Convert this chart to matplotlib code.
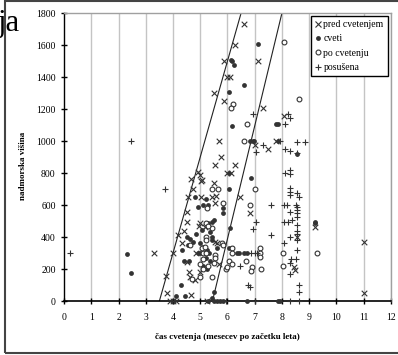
import matplotlib
matplotlib.use("Agg")
import matplotlib.pyplot as plt
from matplotlib.lines import Line2D
from matplotlib.patches import Rectangle

plt.rcParams["font.family"] = ["Liberation Serif", "DejaVu Serif"]

# pred cvetenjem (x)
pred_x = [3.3, 3.74, 3.77, 3.88, 3.99, 4.12, 4.0, 6.6, 6.28, 5.88, 7.13, 5.98, 6.1,
          5.49, 5.89, 7.32, 8.09, 5.69, 7.02, 7.48, 7.79, 5.77, 5.55, 6.26, 6.0, 6.12,
          5.08, 6.47, 5.45, 5.57, 5.55, 6.81, 4.53, 4.53, 4.97, 5.18, 4.2, 4.32, 4.51,
          4.57, 4.63, 4.8, 4.67, 4.91, 4.65, 5.03, 4.75, 4.54, 5.03, 5.0, 5.55, 5.63,
          5.7, 5.0, 5.0, 8.43, 8.49, 9.2, 11.02, 11.02, 8.55, 5.25, 4.4, 4.85, 5.49]
pred_y = [300, 156, 48, 0, 0, 0, 298, 1730, 1600, 1500, 1500, 1400, 1400,
          1300, 1250, 1205, 1155, 1000, 975, 948, 1000, 898, 850, 850, 802, 802,
          756, 652, 650, 655, 610, 548, 558, 496, 470, 460, 412, 360, 246,
          183, 152, 130, 38, 808, 760, 750, 698, 652, 652, 787, 370, 360,
          230, 485, 180, 214, 194, 460, 370, 48, 400, 0, 440, 300, 735]

# cveti (filled dots)
cveti_x = [2.3, 2.46, 7.12, 6.13, 6.18, 6.25, 6.59, 6.06, 6.16, 7.79, 7.87, 6.81, 6.92,
           6.99, 7.85, 6.06, 6.87, 6.06, 5.12, 5.3, 5.85, 5.85, 5.22, 4.91, 4.79, 5.49,
           5.43, 5.3, 5.06, 6.1, 5.43, 5.37, 5.0, 5.1, 5.25, 6.04, 6.15, 6.34, 6.44,
           6.59, 6.71, 4.51, 4.62, 4.74, 4.32, 4.91, 5.0, 5.33, 4.6, 4.3, 4.11, 4.45,
           5.49, 5.43, 5.3, 5.49, 5.61, 5.74, 5.84, 6.71, 7.86, 7.94, 9.2, 9.2, 5.2,
           5.37, 5.1, 5.25, 4.4, 4.55, 8.55, 5.45, 5.6, 4.85]
cveti_y = [295, 175, 1604, 1506, 1500, 1473, 1352, 1306, 1094, 1104, 1104, 1000, 1000,
           1000, 1000, 800, 767, 700, 600, 600, 579, 548, 641, 585, 652, 506,
           496, 485, 444, 454, 400, 430, 360, 340, 320, 329, 329, 298, 298,
           298, 298, 402, 390, 370, 319, 298, 298, 298, 250, 100, 33, 33,
           58, 20, 0, 0, 0, 0, 0, 0, 0, 0, 496, 485, 270,
           250, 220, 200, 250, 350, 920, 380, 330, 420]

# po cvetenju (open circles)
po_x = [8.09, 6.22, 6.13, 8.62, 6.73, 6.59, 5.43, 5.67, 7.02, 5.83, 6.81, 6.16, 6.16,
        7.2, 7.2, 7.2, 8.03, 6.04, 6.16, 6.67, 6.9, 6.86, 7.22, 5.95, 8.03, 5.43, 9.28,
        4.63, 4.69, 5.0, 5.1, 5.2, 5.25, 5.2, 5.2, 5.06, 5.16, 5.43, 5.2, 5.27, 5.79,
        5.85, 5.55, 5.55, 5.98, 5.0, 5.1, 5.3, 5.5, 5.1]
po_y = [1620, 1229, 1204, 1264, 1104, 1000, 700, 700, 700, 614, 600, 329, 298,
        329, 298, 273, 298, 250, 230, 250, 214, 189, 198, 200, 221, 152, 298,
        350, 140, 152, 298, 298, 580, 400, 380, 330, 340, 454, 490, 470, 360,
        350, 290, 270, 210, 230, 200, 220, 240, 260]

# posusena (+)
pos_x = [0.22, 2.46, 3.71, 6.93, 8.24, 8.28, 8.12, 7.04, 7.3, 7.94, 8.55, 8.83, 8.12,
         8.28, 8.55, 8.12, 8.28, 8.3, 8.28, 8.28, 8.28, 8.55, 8.61, 7.6, 8.08, 8.2,
         8.52, 8.57, 8.57, 8.57, 8.57, 8.3, 8.37, 8.08, 8.24, 8.55, 7.05, 6.93, 7.6,
         8.3, 8.55, 8.55, 8.57, 8.08, 8.55, 6.86, 7.0, 7.1, 6.47, 8.3, 8.3, 8.35,
         8.5, 6.75, 6.81, 8.61, 8.61, 5.96, 7.0, 8.3, 8.64]
pos_y = [300, 1000, 698, 1169, 1169, 1142, 1104, 933, 975, 1000, 996, 996, 950,
         937, 923, 802, 794, 820, 704, 683, 662, 673, 652, 600, 600, 600,
         600, 585, 570, 550, 525, 558, 506, 496, 496, 475, 496, 448, 412,
         398, 440, 420, 380, 365, 319, 298, 298, 298, 219, 169, 240, 260,
         260, 100, 86, 100, 58, 0, 0, 0, 0]

# two trend lines (endpoints)
line1_x = [3.5, 6.5]
line1_y = [0, 1800]
line2_x = [5.45, 8.0]
line2_y = [0, 1800]

x_ticks = list(range(0, 13))
y_ticks = list(range(0, 1801, 200))

col = "#333333"

fig = plt.figure(figsize=(3.98, 3.55), dpi=100)
ax = fig.add_axes([0.161, 0.152, 0.821, 0.811])

for xv in x_ticks[1:]:
    ax.axvline(xv, color="#c4c4c4", lw=1.0, zorder=0)

ax.plot(line1_x, line1_y, color="#222222", lw=0.8, zorder=2)
ax.plot(line2_x, line2_y, color="#222222", lw=0.8, zorder=2)

ax.scatter(pred_x, pred_y, marker="x", s=16, color=col, linewidths=0.8,
           clip_on=False, zorder=3)
ax.scatter(cveti_x, cveti_y, marker="o", s=12, color=col, linewidths=0,
           clip_on=False, zorder=3)
ax.scatter(po_x, po_y, marker="o", s=12, facecolors="white", edgecolors=col,
           linewidths=0.8, clip_on=False, zorder=3)
ax.scatter(pos_x, pos_y, marker="+", s=24, color=col, linewidths=0.8,
           clip_on=False, zorder=3)

ax.set_xlim(0, 12)
ax.set_ylim(0, 1800)
ax.set_xticks(x_ticks)
ax.set_yticks(y_ticks)
ax.tick_params(direction="inout", length=5, width=1, labelsize=7, colors="black")
ax.tick_params(axis="x", pad=6)
for s in ["top", "right"]:
    ax.spines[s].set_color("#a0a0a0")
    ax.spines[s].set_linewidth(1)
ax.spines["left"].set_linewidth(1)
ax.spines["bottom"].set_linewidth(1.2)

ax.set_xlabel("čas cvetenja (mesecev po začetku leta)", fontsize=6.5,
              fontweight="bold")
ax.set_ylabel("nadmorska višina", fontsize=6.5, fontweight="bold")
ax.xaxis.set_label_coords(0.5, -0.11)
ax.yaxis.set_label_coords(-0.115, 0.47)

handles = [
    Line2D([], [], marker="x", ls="none", color=col, markersize=4, mew=0.8),
    Line2D([], [], marker="o", ls="none", color=col, markersize=3.5, mew=0),
    Line2D([], [], marker="o", ls="none", mfc="white", mec=col, markersize=3.5, mew=0.8),
    Line2D([], [], marker="+", ls="none", color=col, markersize=5, mew=0.8),
]
leg = ax.legend(handles, ["pred cvetenjem", "cveti", "po cvetenju", "posušena"],
                loc="upper right", bbox_to_anchor=(0.99, 0.99), fontsize=7,
                frameon=True, fancybox=False, framealpha=1, edgecolor="black",
                handlelength=0.6, handletextpad=0.3, borderpad=0.4,
                labelspacing=0.55, borderaxespad=0)
leg.get_frame().set_linewidth(1)

fig.patches.append(Rectangle((5 / 398, 2 / 355), 1.0, 1.0 - 3 / 355,
                             transform=fig.transFigure, fill=False,
                             edgecolor="#444444", lw=1.5))
fig.text(-0.005, 0.935, "ja", fontsize=22, va="center", ha="left",
         family=["Liberation Serif"])

fig.savefig("out.png", dpi=100)
